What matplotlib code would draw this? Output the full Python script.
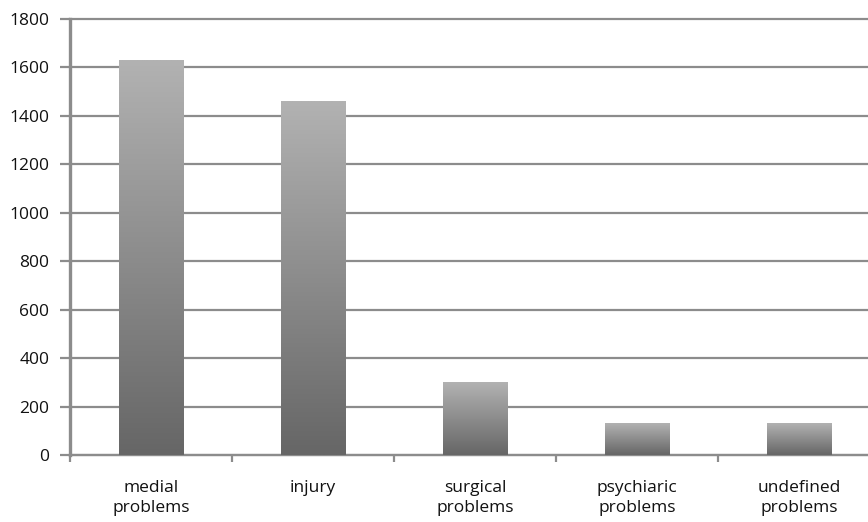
import numpy as np
import matplotlib.pyplot as plt
from matplotlib.colors import LinearSegmentedColormap

categories = ["medial\nproblems", "injury", "surgical\nproblems",
              "psychiaric\nproblems", "undefined\nproblems"]
counts = [1630, 1460, 300, 130, 130]
y_ticks = [0, 200, 400, 600, 800, 1000, 1200, 1400, 1600, 1800]


def main():
    plt.rcParams['font.family'] = ['Open Sans', 'DejaVu Sans']

    fig = plt.figure(figsize=(8.68, 5.22), dpi=100)
    ax = fig.add_axes([0.0806, 0.1284, 1.0138 - 0.0806, 0.8352])

    grey = '#8c8c8c'

    x = np.arange(len(categories))

    # grid behind the bars
    ax.set_axisbelow(True)
    ax.yaxis.grid(True, color=grey, linewidth=1.6)

    bars = ax.bar(x, counts, width=0.4, color='none', edgecolor='none', zorder=2)

    # vertical gradient, light on top, dark at the bottom
    cmap = LinearSegmentedColormap.from_list('bar', ['#666666', '#b2b2b2'])
    grad = np.linspace(0, 1, 256).reshape(-1, 1)
    for b in bars:
        x0, y0 = b.get_x(), b.get_y()
        w, h = b.get_width(), b.get_height()
        im = ax.imshow(grad, cmap=cmap, origin='lower', aspect='auto',
                       extent=[x0, x0 + w, y0, y0 + h], zorder=3)
        im.set_clip_path(b)
    ax.set_xlim(-0.5, len(categories) - 0.5)
    ax.set_ylim(0, 1800)

    # Tick marks
    ax.set_yticks(y_ticks)
    ax.set_yticklabels([str(v) for v in y_ticks], fontsize=12.5, color='#111111')
    ax.tick_params(axis='y', length=7, width=1.6, color=grey, pad=8)
    for gl in ax.get_ygridlines():
        gl.set_clip_on(False)

    ax.set_xticks(x)
    ax.set_xticklabels(categories, fontsize=12.5, color='#111111', linespacing=1.3)
    ax.tick_params(axis='x', which='major', length=0, pad=18)
    ax.set_xticks(np.arange(-0.5, len(categories) - 0.4, 1.0), minor=True)
    ax.tick_params(axis='x', which='minor', length=5, width=1.6, color=grey)

    for side in ['top', 'right']:
        ax.spines[side].set_visible(False)
    ax.spines['left'].set_color(grey)
    ax.spines['left'].set_linewidth(2.4)
    ax.spines['bottom'].set_color(grey)
    ax.spines['bottom'].set_linewidth(1.6)

    fig.savefig('out.png', dpi=100)


main()
